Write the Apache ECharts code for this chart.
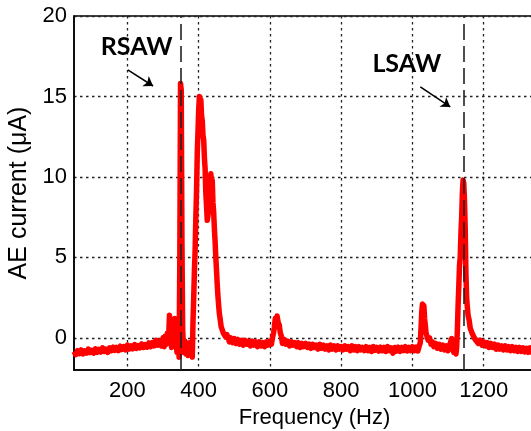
<!DOCTYPE html>
<html>
<head>
<meta charset="utf-8">
<script src="https://cdn.jsdelivr.net/npm/echarts@6/dist/echarts.min.js"></script>
<style>
  html, body { margin: 0; padding: 0; background: #fff; overflow: hidden; }
  #chart { width: 531px; height: 431px; }
</style>
</head>
<body>
<div id="chart"></div>
<script>
// AE current spectrum: [frequency (Hz), current (µA)]
const spectrum = [
  [50,-0.85],[55,-1.05],[60,-0.8],[65,-0.98],[70,-0.75],[75,-1.0],[80,-0.82],[85,-0.95],
  [90,-0.7],[95,-0.92],[100,-0.78],[105,-0.95],[110,-0.68],[115,-0.9],[120,-0.72],[125,-0.88],
  [130,-0.62],[135,-0.85],[140,-0.7],[145,-0.9],[150,-0.62],[155,-0.8],[160,-0.58],[165,-0.78],
  [170,-0.6],[175,-0.8],[180,-0.52],[185,-0.72],[190,-0.55],[195,-0.75],[200,-0.45],[205,-0.7],
  [210,-0.5],[215,-0.68],[220,-0.42],[225,-0.66],[230,-0.48],[235,-0.62],[240,-0.38],[245,-0.6],
  [250,-0.42],[255,-0.58],[260,-0.32],[265,-0.55],[270,-0.3],[275,-0.5],[280,-0.15],[285,-0.45],
  [290,-0.2],[295,-0.5],[300,0.0],[303,-0.55],[306,0.1],[309,-0.4],[312,0.3],[315,-0.3],
  [318,1.4],[321,0.2],[324,-0.6],[327,0.6],[330,-0.4],[333,1.2],[336,0.0],[339,-0.9],
  [342,0.4],[345,-1.2],[347,5.0],[349,15.8],[351,15.4],[353,6.0],[355,0.5],[358,-0.9],
  [361,-0.2],[364,-1.0],[367,-0.4],[370,-1.1],[373,-0.3],[376,-0.9],[379,-0.4],[382,-1.2],
  [384,1.0],[386,2.5],[388,4.2],[390,5.5],[392,7.5],[394,9.2],[396,11.5],[398,12.8],
  [400,14.2],[402,15.0],[404,14.5],[406,14.8],[408,13.8],[410,13.5],[412,12.6],[414,12.3],
  [416,11.2],[418,10.5],[420,9.0],[422,8.2],[424,7.3],[426,7.6],[428,8.0],[430,9.4],
  [432,9.8],[434,10.2],[436,9.6],[438,9.8],[440,8.4],[442,7.8],[444,6.8],[446,6.0],
  [448,5.0],[450,4.2],[452,3.3],[454,2.6],[456,2.0],[458,1.5],[460,1.2],[463,0.7],
  [466,0.8],[469,0.3],[472,0.35],[476,0.05],[479,0.2],[482,0.05],[486,-0.25],[490,0.0],
  [495,-0.3],[500,-0.05],[505,-0.35],[510,-0.1],[515,-0.4],[520,-0.15],[525,-0.45],[530,-0.15],
  [535,-0.4],[540,-0.2],[545,-0.5],[550,-0.2],[555,-0.45],[560,-0.25],[565,-0.55],[570,-0.25],
  [575,-0.5],[580,-0.3],[585,-0.55],[590,-0.25],[595,-0.45],[600,-0.2],[604,-0.4],[607,0.0],
  [610,0.3],[612,0.6],[615,1.2],[618,1.05],[620,1.35],[623,0.95],[626,0.8],[629,0.3],
  [632,0.1],[635,-0.35],[640,-0.1],[645,-0.4],[650,-0.2],[655,-0.5],[660,-0.25],[665,-0.45],
  [670,-0.3],[675,-0.55],[680,-0.3],[685,-0.6],[690,-0.35],[695,-0.55],[700,-0.35],[705,-0.6],
  [710,-0.4],[715,-0.65],[720,-0.4],[725,-0.6],[730,-0.45],[735,-0.7],[740,-0.4],[745,-0.65],
  [750,-0.45],[755,-0.7],[760,-0.5],[765,-0.75],[770,-0.45],[775,-0.7],[780,-0.5],[785,-0.75],
  [790,-0.5],[795,-0.7],[800,-0.55],[805,-0.75],[810,-0.5],[815,-0.7],[820,-0.55],[825,-0.8],
  [830,-0.5],[835,-0.75],[840,-0.55],[845,-0.8],[850,-0.55],[855,-0.75],[860,-0.6],[865,-0.8],
  [870,-0.55],[875,-0.8],[880,-0.6],[885,-0.85],[890,-0.55],[895,-0.78],[900,-0.6],[905,-0.82],
  [910,-0.58],[915,-0.8],[920,-0.6],[925,-0.85],[930,-0.55],[935,-0.8],[940,-0.62],[945,-0.95],
  [950,-0.6],[955,-0.82],[960,-0.58],[965,-0.85],[970,-0.6],[975,-0.8],[980,-0.55],[985,-0.82],
  [990,-0.6],[995,-0.8],[1000,-0.55],[1005,-0.8],[1010,-0.58],[1015,-0.82],[1019,-0.5],[1022,-0.3],
  [1024,0.6],[1026,1.6],[1028,2.1],[1030,1.8],[1032,2.0],[1034,1.2],[1036,0.8],[1038,0.3],
  [1041,0.25],[1044,-0.15],[1048,0.0],[1052,-0.4],[1056,-0.25],[1060,-0.55],[1065,-0.35],[1070,-0.65],
  [1075,-0.4],[1080,-0.7],[1085,-0.45],[1090,-0.75],[1095,-0.5],[1100,-0.8],[1104,-0.5],[1107,-0.25],
  [1110,-0.05],[1113,-0.6],[1116,-0.9],[1119,-0.5],[1122,-1.0],[1124,-0.6],[1126,0.5],[1128,2.0],
  [1130,3.2],[1132,4.5],[1134,5.0],[1136,6.5],[1138,7.5],[1140,9.0],[1142,9.8],[1144,9.6],
  [1146,8.5],[1148,6.8],[1150,4.0],[1152,2.5],[1154,1.9],[1156,1.4],[1159,1.1],[1162,0.6],
  [1165,0.55],[1168,0.25],[1172,0.2],[1176,-0.1],[1180,0.0],[1185,-0.35],[1190,-0.15],[1195,-0.45],
  [1200,-0.25],[1205,-0.5],[1210,-0.3],[1215,-0.6],[1220,-0.35],[1225,-0.6],[1230,-0.4],[1235,-0.7],
  [1240,-0.45],[1245,-0.7],[1250,-0.5],[1255,-0.75],[1260,-0.5],[1265,-0.75],[1270,-0.55],[1275,-0.8],
  [1280,-0.55],[1285,-0.8],[1290,-0.6],[1295,-0.85],[1300,-0.6],[1305,-0.85],[1310,-0.62],[1315,-0.88],
  [1320,-0.65],[1325,-0.9],[1330,-0.62],[1335,-0.9],[1340,-0.7],[1350,-0.85],[1360,-0.7],[1380,-0.85],
  [1400,-0.75]
];

// Axis ticks
const freqTicks = [200, 400, 600, 800, 1000, 1200];
const currentTicks = [0, 5, 10, 15, 20];

// Resonance frequencies marked with dashed lines
const sawFreqs = [350, 1145];

// Annotation labels: text, label anchor, arrow start and end (data coords)
const annotations = [
  { text: 'RSAW', at: [226, 18.1], from: [201, 16.65], to: [272, 15.65] },
  { text: 'LSAW', at: [984, 17.0], from: [1022, 15.6], to: [1106, 14.35] }
];

const tickFont = { fontFamily: 'Liberation Sans, Arial, sans-serif', fontSize: 22, color: '#000' };
const gridDots = { color: '#222', width: 1.3, type: [2.5, 3.5] };

const chart = echarts.init(document.getElementById('chart'), null, { renderer: 'canvas', width: 531, height: 431 });

chart.setOption({
  animation: false,
  backgroundColor: '#fff',
  grid: {
    left: 74, top: 16, width: 481, height: 354,
    outerBoundsMode: 'none',
    containLabel: false,
    show: true, borderColor: '#000', borderWidth: 1.5, backgroundColor: 'transparent'
  },
  xAxis: {
    type: 'value', min: 50, max: 1400,
    name: 'Frequency (Hz)', nameLocation: 'middle', nameGap: 36,
    nameTextStyle: { fontFamily: tickFont.fontFamily, fontSize: 22, color: '#000' },
    axisLine: { show: true, onZero: false, lineStyle: { color: '#000', width: 1.5 } },
    axisTick: { show: false, customValues: freqTicks },
    axisLabel: Object.assign({ customValues: freqTicks, margin: 10, formatter: v => String(v) }, tickFont),
    splitLine: { show: true, lineStyle: gridDots }
  },
  yAxis: {
    type: 'value', min: -2, max: 20,
    name: 'AE current (\u03bcA)', nameLocation: 'middle', nameGap: 29, nameRotate: 90,
    nameTextStyle: { fontFamily: tickFont.fontFamily, fontSize: 25, color: '#000' },
    axisLine: { show: true, onZero: false, lineStyle: { color: '#000', width: 1.5 } },
    axisTick: { show: false, customValues: currentTicks },
    axisLabel: Object.assign({ customValues: currentTicks, margin: 7, formatter: v => String(v) }, tickFont),
    splitLine: { show: true, lineStyle: gridDots }
  },
  series: [
    {
      name: 'AE current',
      type: 'line',
      data: spectrum,
      showSymbol: false,
      lineStyle: { color: '#ff0000', width: 5.5, join: 'round' },
      itemStyle: { color: '#ff0000' },
      z: 2
    },
    {
      type: 'line',
      data: [],
      z: 3,
      markLine: {
        silent: true,
        symbol: 'none',
        label: { show: false },
        lineStyle: { color: '#222', width: 1.6, type: [16, 6] },
        data: sawFreqs.map(f => ({ xAxis: f }))
      }
    },
    {
      type: 'line',
      data: [],
      z: 4,
      markLine: {
        silent: true,
        symbol: ['none', 'arrow'],
        symbolSize: 9,
        label: { show: false },
        lineStyle: { color: '#000', width: 1.5, type: 'solid' },
        data: annotations.map(a => [{ coord: a.from }, { coord: a.to }])
      },
      markPoint: {
        silent: true,
        symbol: 'circle',
        symbolSize: 1,
        itemStyle: { color: 'rgba(0,0,0,0)' },
        label: {
          show: true, position: 'inside',
          fontFamily: 'Lato, Open Sans, sans-serif', fontWeight: 'bold', fontSize: 25, color: '#000',
          formatter: p => p.name
        },
        data: annotations.map(a => ({ name: a.text, coord: a.at }))
      }
    }
  ]
});
</script>
</body>
</html>
